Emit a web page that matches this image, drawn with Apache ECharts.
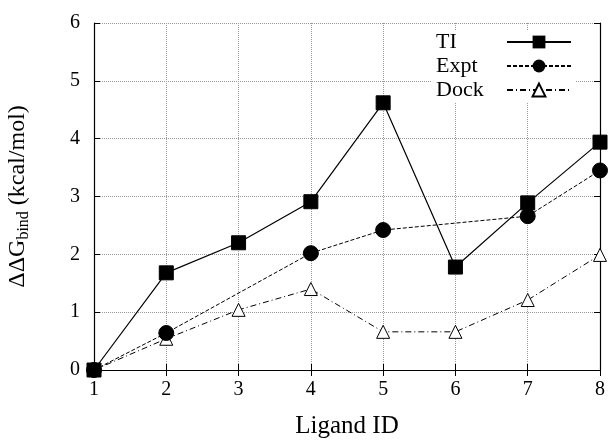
<!DOCTYPE html>
<html><head><meta charset="utf-8">
<script src="https://cdn.jsdelivr.net/npm/echarts@6/dist/echarts.min.js"></script>
<style>html,body{margin:0;padding:0;background:#fff}#c{width:612px;height:443px}</style>
</head><body><div id="c"></div>
<script>
const ligands = [1, 2, 3, 4, 5, 6, 7, 8];
const tiValues = [0, 1.68, 2.20, 2.91, 4.62, 1.78, 2.89, 3.94];
const exptValues = [0, 0.64, null, 2.02, 2.42, null, 2.66, 3.45];
const dockValues = [0, 0.54, 1.04, 1.40, 0.66, 0.66, 1.21, 1.99];
const yTicks = [0, 1, 2, 3, 4, 5, 6];
const xTicks = [1, 2, 3, 4, 5, 6, 7, 8];

const FONT = 'Liberation Serif';
const pairs = v => ligands.map((x, i) => [x, v[i]]);
const chart = echarts.init(document.getElementById('c'));
const axisCommon = {
  axisLine: {show: true, lineStyle: {color: '#000', width: 1.2}},
  axisTick: {show: true, inside: true, length: 6, lineStyle: {color: '#000'}},
};
chart.setOption({
  animation: false,
  backgroundColor: '#fff',
  grid: {left: 94, right: 12, top: 23, bottom: 73, outerBoundsMode: 'none', containLabel: false},
  legend: {
    orient: 'vertical', left: 432, top: 31, align: 'right',
    itemWidth: 64, itemHeight: 16, itemGap: 2,
    backgroundColor: '#fff', padding: [0, 4, 2, 4],
    formatter: '{a|{name}}',
    textStyle: {fontFamily: FONT, fontSize: 22, color: '#000',
      rich: {a: {fontFamily: FONT, fontSize: 22, lineHeight: 22, color: '#000', width: 66, align: 'left'}}},
    data: ['TI', 'Expt', 'Dock']
  },
  xAxis: [{
    type: 'value', min: xTicks[0], max: xTicks[xTicks.length - 1], interval: 1,
    name: 'Ligand ID', nameLocation: 'middle', nameGap: 44,
    nameTextStyle: {fontFamily: FONT, fontSize: 25, color: '#000'},
    ...axisCommon,
    axisLabel: {fontFamily: FONT, fontSize: 20, color: '#000', margin: 10},
    splitLine: {show: true, lineStyle: {color: '#999', type: 'dotted', width: 1}}
  }, {
    type: 'value', position: 'top', min: xTicks[0], max: xTicks[xTicks.length - 1], interval: 1,
    ...axisCommon, axisLabel: {show: false}, splitLine: {show: false}
  }],
  yAxis: [{
    type: 'value', min: yTicks[0], max: yTicks[yTicks.length - 1], interval: 1,
    name: 'ΔΔG{sub|bind} (kcal/mol)', nameLocation: 'middle', nameGap: 62,
    nameTextStyle: {fontFamily: FONT, fontSize: 24, color: '#000',
      rich: {sub: {fontFamily: FONT, fontSize: 16, color: '#000', padding: [12, 0, 0, 0]}}},
    ...axisCommon,
    axisLabel: {fontFamily: FONT, fontSize: 20, color: '#000', margin: 14},
    splitLine: {show: true, lineStyle: {color: '#999', type: 'dotted', width: 1}}
  }, {
    type: 'value', position: 'right', min: yTicks[0], max: yTicks[yTicks.length - 1], interval: 1,
    ...axisCommon, axisLabel: {show: false}, splitLine: {show: false}
  }],
  series: [{
    name: 'TI', type: 'line', data: pairs(tiValues),
    symbol: 'rect', symbolSize: 14, z: 3,
    lineStyle: {color: '#000', width: 1.2, type: 'solid'},
    itemStyle: {color: '#000', borderColor: '#000'}
  }, {
    name: 'Expt', type: 'line', data: pairs(exptValues), connectNulls: true,
    symbol: 'circle', symbolSize: 15, z: 2,
    lineStyle: {color: '#000', width: 1, type: [4, 2]},
    itemStyle: {color: '#000', borderColor: '#000'}
  }, {
    name: 'Dock', type: 'line', data: pairs(dockValues),
    symbol: 'triangle', symbolSize: 13, z: 1,
    lineStyle: {color: '#000', width: 1, type: [6, 3, 1, 3]},
    itemStyle: {color: '#fff', borderColor: '#000', borderWidth: 1}
  }]
});
</script></body></html>
